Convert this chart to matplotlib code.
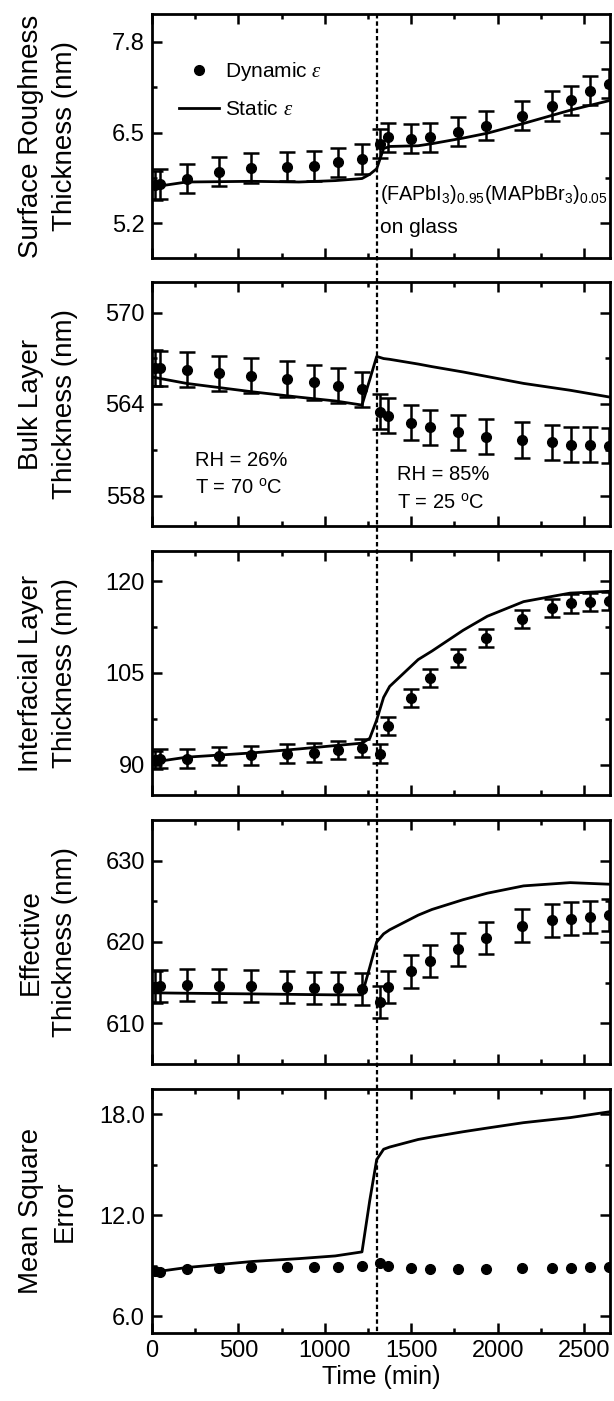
import numpy as np
import matplotlib.pyplot as plt
import matplotlib.transforms as mtransforms
from matplotlib.lines import Line2D

plt.rcParams['font.family'] = ['Liberation Sans', 'DejaVu Sans']
plt.rcParams['mathtext.fontset'] = 'custom'
plt.rcParams['mathtext.rm'] = 'Liberation Sans'
plt.rcParams['mathtext.it'] = 'Liberation Serif:italic'
plt.rcParams['mathtext.default'] = 'regular'

# time of the dynamic-epsilon fits (min)
t_dyn = [15, 45, 200, 390, 575, 780, 940, 1075, 1215, 1320,
         1365, 1500, 1610, 1770, 1935, 2140, 2315, 2425, 2535, 2645]
# time grid of the static-epsilon fits (min)
t_stat = [10, 200, 580, 850, 1060, 1215, 1260, 1300, 1340, 1375,
          1540, 1620, 1800, 1940, 2150, 2420, 2650]

# surface roughness (nm)
sr_dyn = [5.74, 5.76, 5.84, 5.94, 5.99, 6.01, 6.02, 6.07, 6.12, 6.34,
          6.43, 6.41, 6.43, 6.51, 6.60, 6.74, 6.88, 6.96, 7.10, 7.20]
sr_err = 0.21
sr_stat = [5.72, 5.79, 5.80, 5.79, 5.81, 5.84, 5.90, 5.98, 6.27, 6.30,
           6.31, 6.34, 6.42, 6.49, 6.63, 6.82, 6.96]

# bulk layer (nm)
bulk_dyn = [566.36, 566.33, 566.25, 566.03, 565.85, 565.64, 565.42, 565.20, 564.98, 563.50,
            563.24, 562.76, 562.47, 562.15, 561.86, 561.64, 561.49, 561.34, 561.34, 561.27]
bulk_err = 1.15
bulk_stat = [565.75, 565.35, 564.80, 564.45, 564.20, 563.93, 565.60, 567.12, 566.98, 566.93,
             566.62, 566.45, 566.10, 565.80, 565.35, 564.90, 564.45]

# interfacial layer (nm)
int_dyn = [90.7, 90.98, 90.98, 91.4, 91.5, 91.8, 91.96, 92.35, 92.7, 91.8,
           96.27, 100.9, 104.2, 107.5, 110.7, 113.9, 115.6, 116.4, 116.6, 116.8]
int_err = 1.5
int_stat = [90.4, 91.2, 91.9, 92.55, 93.1, 93.5, 94.3, 97.3, 101.0, 102.8,
            107.2, 108.6, 112.0, 114.3, 116.7, 118.1, 118.4]

# effective thickness (nm)
eff_dyn = [614.44, 614.57, 614.73, 614.65, 614.57, 614.44, 614.36, 614.32, 614.24, 612.60,
           614.44, 616.38, 617.65, 619.10, 620.50, 622.00, 622.67, 622.88, 623.10, 623.30]
eff_err = 2.0
eff_stat = [613.75, 613.70, 613.62, 613.55, 613.50, 613.50, 616.90, 620.00, 621.00, 621.50,
            623.30, 624.00, 625.20, 626.00, 626.90, 627.30, 627.10]

# mean square error
mse_dyn = [8.69, 8.65, 8.79, 8.89, 8.93, 8.95, 8.95, 8.95, 8.99, 9.15,
           8.99, 8.89, 8.83, 8.83, 8.83, 8.85, 8.85, 8.89, 8.93, 8.93]
mse_stat = [8.62, 8.89, 9.25, 9.42, 9.58, 9.82, 12.88, 15.3, 15.92, 16.05,
            16.5, 16.65, 16.96, 17.18, 17.5, 17.8, 18.15]

t_switch = 1300

panels = [
    ("Surface Roughness\nThickness (nm)", sr_dyn, sr_err, sr_stat, (4.7, 8.2), [5.2, 6.5, 7.8], '%.1f'),
    ("Bulk Layer\nThickness (nm)", bulk_dyn, bulk_err, bulk_stat, (556, 572), [558, 564, 570], '%d'),
    ("Interfacial Layer\nThickness (nm)", int_dyn, int_err, int_stat, (85, 125), [90, 105, 120], '%d'),
    ("Effective\nThickness (nm)", eff_dyn, eff_err, eff_stat, (605, 635), [610, 620, 630], '%d'),
    ("Mean Square\nError", mse_dyn, None, mse_stat, (5, 19.5), [6.0, 12.0, 18.0], '%.1f'),
]

W, H = 614, 1401
fig = plt.figure(figsize=(W / 100, H / 100), dpi=100)

left_px, right_px = 152, 610
tops_px = [14, 282, 551, 820, 1089]
h_px = 244

axes = []
for i, (lab, ydyn, yerr, ystat, ylim, yt, fmt) in enumerate(panels):
    ax = fig.add_axes([left_px / W, 1 - (tops_px[i] + h_px) / H,
                       (right_px - left_px) / W, h_px / H])
    if yerr is not None:
        ax.errorbar(t_dyn, ydyn, yerr=yerr, fmt='o', color='black', ms=7,
                    elinewidth=1.8, capsize=6, capthick=1.8)
    else:
        ax.plot(t_dyn, ydyn, 'o', color='black', ms=7)
    ax.plot(t_stat, ystat, '-', color='black', lw=2)

    ax.set_xlim(0, 2650)
    ax.set_ylim(*ylim)
    ax.set_xticks([0, 500, 1000, 1500, 2000, 2500])
    ax.set_xticks(np.arange(250, 2650, 500), minor=True)
    ax.set_yticks(yt)
    ax.set_yticks([(yt[0] + yt[1]) / 2, (yt[1] + yt[2]) / 2], minor=True)
    ax.set_yticklabels([fmt % v for v in yt])
    ax.tick_params(which='both', direction='in', top=True, right=True,
                   width=1.8, labelsize=17, pad=5)
    ax.tick_params(which='major', length=7)
    ax.tick_params(which='minor', length=3.5)
    for s in ax.spines.values():
        s.set_linewidth(2)
    if i < 4:
        ax.tick_params(labelbottom=False)
    ax.set_ylabel(lab, fontsize=20, linespacing=1.4)
    ax.yaxis.set_label_coords(-0.162, 0.5)
    axes.append(ax)

axes[-1].set_xlabel('Time (min)', fontsize=18, labelpad=2)

# legend in the top panel (dynamic first, dot without error bar)
h_dyn = Line2D([], [], marker='o', ls='none', color='black', ms=7)
h_stat = Line2D([], [], ls='-', color='black', lw=2)
axes[0].legend([h_dyn, h_stat], [r'Dynamic $\mathit{\varepsilon}$', r'Static $\mathit{\varepsilon}$'],
               loc='upper left', bbox_to_anchor=(0.06, 0.812), frameon=False,
               fontsize=15, handlelength=1.9, handletextpad=0.3,
               labelspacing=0.84, borderpad=0, borderaxespad=0)

axes[0].text(0.497, 0.26, r'(FAPbI$_3$)$_{0.95}$(MAPbBr$_3$)$_{0.05}$',
             transform=axes[0].transAxes, fontsize=14.2, va='center', ha='left')
axes[0].text(0.497, 0.125, 'on glass', transform=axes[0].transAxes,
             fontsize=15, va='center', ha='left')

axes[1].text(0.093, 0.27, 'RH = 26%', transform=axes[1].transAxes, fontsize=14.5, va='center')
axes[1].text(0.093, 0.155, r'T = 70 $^{o}$C', transform=axes[1].transAxes, fontsize=14.5, va='center')
axes[1].text(0.535, 0.21, 'RH = 85%', transform=axes[1].transAxes, fontsize=14.5, va='center')
axes[1].text(0.535, 0.095, r'T = 25 $^{o}$C', transform=axes[1].transAxes, fontsize=14.5, va='center')

# dotted switch line through all panels
trans = mtransforms.blended_transform_factory(axes[-1].transData, fig.transFigure)
fig.add_artist(Line2D([t_switch, t_switch], [1 - tops_px[0] / H, 1 - (tops_px[-1] + h_px) / H],
                      transform=trans, color='black', lw=1.6, linestyle=(0, (2, 1.3))))

fig.savefig('out.png', dpi=100)
